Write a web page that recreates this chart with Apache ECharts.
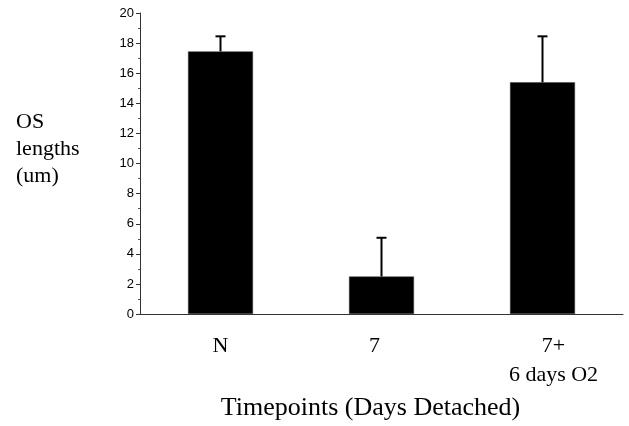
<!DOCTYPE html>
<html>
<head>
<meta charset="utf-8">
<script src="https://cdn.jsdelivr.net/npm/echarts@6/dist/echarts.min.js"></script>
<style>
html,body{margin:0;padding:0;background:#fff;}
#chart{width:629px;height:426px;}
</style>
</head>
<body>
<div id="chart"></div>
<script>
var categories = ['N', '7', '7+\n6 days O2'];
var means = [17.45, 2.5, 15.4];
var errors = [1.0, 2.57, 3.05];
var yTicks = [0, 2, 4, 6, 8, 10, 12, 14, 16, 18, 20];

var serif = '"Liberation Serif", "Times New Roman", serif';
var sans = '"Liberation Sans", Arial, sans-serif';

var labelPads = [[0, 0, 0, 0], [0, 14, 0, 0], [0, 0, 0, 22]];

var chart = echarts.init(document.getElementById('chart'));
chart.setOption({
  animation: false,
  backgroundColor: '#fff',
  title: {
    text: 'OS\nlengths\n(um)',
    left: 11,
    top: 104,
    textStyle: {fontFamily: serif, fontSize: 22, fontWeight: 'normal', color: '#000', lineHeight: 27}
  },
  grid: {left: 140, right: 6, top: 13, bottom: 109, containLabel: false},
  xAxis: {
    type: 'category',
    data: categories.map(function (c, i) { return {value: c, textStyle: {padding: labelPads[i]}}; }),
    axisLine: {show: true, lineStyle: {color: '#333', width: 1}},
    axisTick: {show: false},
    axisLabel: {fontFamily: serif, fontSize: 22, color: '#000', margin: 18, lineHeight: 29, interval: 0},
    name: 'Timepoints (Days Detached)',
    nameLocation: 'middle',
    nameGap: 80,
    nameTextStyle: {fontFamily: serif, fontSize: 26, color: '#000', padding: [0, 22, 0, 0]}
  },
  yAxis: {
    type: 'value',
    min: yTicks[0],
    max: yTicks[yTicks.length - 1],
    interval: 2,
    axisLine: {show: true, lineStyle: {color: '#333', width: 1}},
    axisTick: {show: true, length: 4, lineStyle: {color: '#333'}},
    minorTick: {show: true, splitNumber: 2, length: 2, lineStyle: {color: '#555'}},
    splitLine: {show: false},
    axisLabel: {fontFamily: sans, fontSize: 13, color: '#000', margin: 6}
  },
  series: [
    {
      type: 'bar',
      data: means,
      barWidth: 65,
      itemStyle: {color: '#000', borderColor: '#444', borderWidth: 0.5}
    },
    {
      type: 'custom',
      data: means.map(function (m, i) { return [i, m, m + errors[i]]; }),
      renderItem: function (params, api) {
        var base = api.coord([api.value(0), api.value(1)]);
        var top = api.coord([api.value(0), api.value(2)]);
        var hw = 5;
        return {
          type: 'group',
          children: [
            {type: 'line', shape: {x1: base[0], y1: base[1], x2: top[0], y2: top[1]}, style: {stroke: '#000', lineWidth: 2}},
            {type: 'line', shape: {x1: top[0] - hw, y1: top[1], x2: top[0] + hw, y2: top[1]}, style: {stroke: '#000', lineWidth: 2}}
          ]
        };
      },
      z: 5
    }
  ]
});
</script>
</body>
</html>
